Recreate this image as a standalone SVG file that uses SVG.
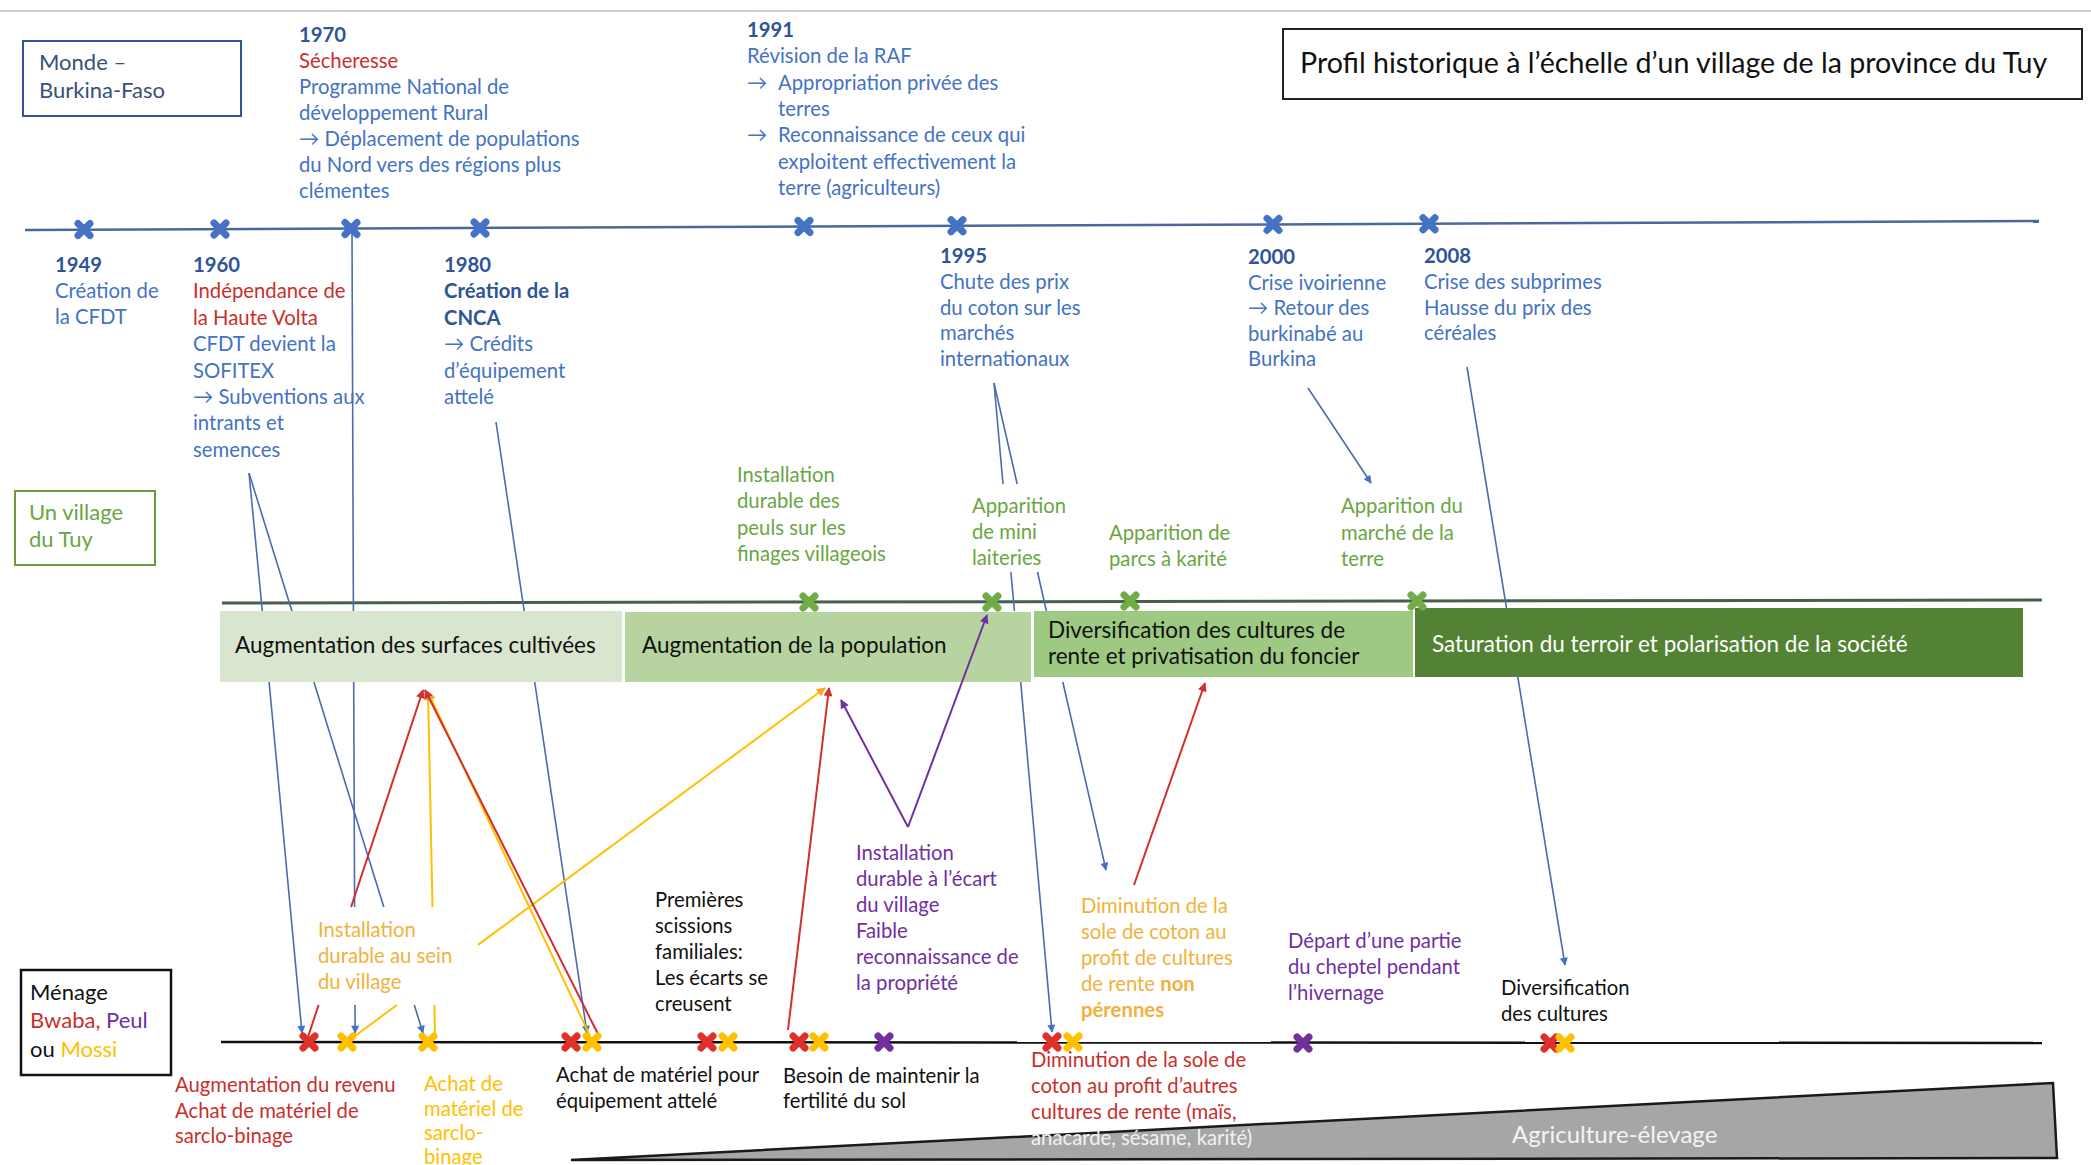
<svg xmlns="http://www.w3.org/2000/svg" xmlns:xlink="http://www.w3.org/1999/xlink" width="2091" height="1165" viewBox="0 0 2091 1165">
<style>
text{font-family:Lato,"Liberation Sans","DejaVu Sans",sans-serif;font-size:20.3px}
.blue{fill:#4472C4}
.yr{fill:#2F5597;font-weight:bold}
.red{fill:#C8302C}
.grn{fill:#6BA543}
.blk{fill:#111}
.pur{fill:#7030A0}
.org{fill:#F2B13C}
.yel{fill:#FFC000}
.box{font-size:22.5px;fill:#111}
.lab{font-size:22px}
.cb{fill:none;stroke:#4A6BB0;stroke-width:1.6}
.cr{fill:none;stroke:#D0302C;stroke-width:2}
.cy{fill:none;stroke:#FFC000;stroke-width:2}
.cp{fill:none;stroke:#7030A0;stroke-width:2}
</style>
<defs>
<path id="xm" d="M-6,-6 L6,6 M6,-6 L-6,6" fill="none" stroke-width="7" stroke-linecap="round"/>
<marker id="ab" viewBox="0 0 10 10" refX="9" refY="5" markerWidth="10" markerHeight="8" markerUnits="userSpaceOnUse" orient="auto"><path d="M0,0 L10,5 L0,10 z" fill="#4472C4"/></marker>
<marker id="ar" viewBox="0 0 10 10" refX="9" refY="5" markerWidth="11" markerHeight="9" markerUnits="userSpaceOnUse" orient="auto"><path d="M0,0 L10,5 L0,10 z" fill="#D0302C"/></marker>
<marker id="ay" viewBox="0 0 10 10" refX="9" refY="5" markerWidth="11" markerHeight="9" markerUnits="userSpaceOnUse" orient="auto"><path d="M0,0 L10,5 L0,10 z" fill="#F5A623"/></marker>
<marker id="ap" viewBox="0 0 10 10" refX="9" refY="5" markerWidth="11" markerHeight="9" markerUnits="userSpaceOnUse" orient="auto"><path d="M0,0 L10,5 L0,10 z" fill="#7030A0"/></marker>
</defs>
<rect width="2091" height="1165" fill="#fff"/>
<line x1="0" y1="11" x2="2091" y2="11" stroke="#d0d0d0" stroke-width="2"/>

<!-- scale boxes -->
<g id="monde">
<rect x="23" y="41" width="218" height="75" fill="#fff" stroke="#2F5597" stroke-width="2"/>
<text x="39" y="70" fill="#3A4F78" class="lab">Monde –</text>
<text x="39" y="98" fill="#3A4F78" class="lab">Burkina-Faso</text>
</g>
<g id="village">
<rect x="15" y="491" width="140" height="74" fill="#fff" stroke="#6B9A3F" stroke-width="2"/>
<text x="29" y="520" class="grn lab">Un village</text>
<text x="29" y="547" class="grn lab">du Tuy</text>
</g>
<g id="menage">
<rect x="21" y="970" width="150" height="105" fill="#fff" stroke="#111" stroke-width="2.5"/>
<text x="30" y="1000" class="blk lab">Ménage</text>
<text x="30" y="1028" class="lab"><tspan class="red">Bwaba, </tspan><tspan class="pur">Peul</tspan></text>
<text x="30" y="1057" class="lab"><tspan class="blk">ou </tspan><tspan class="yel">Mossi</tspan></text>
</g>
<g id="title">
<rect x="1283" y="29" width="799" height="70" fill="#fff" stroke="#222" stroke-width="2"/>
<text x="1300" y="73" class="blk" style="font-size:28.6px">Profil historique à l’échelle d’un village de la province du Tuy</text>
</g>

<!-- timelines -->
<g id="timelines">
<line x1="25" y1="230" x2="2039" y2="221" stroke="#4A67A0" stroke-width="2.5"/>
<line x1="222" y1="603" x2="2042" y2="600" stroke="#46604A" stroke-width="3"/>
<line x1="221" y1="1042" x2="2042" y2="1043" stroke="#111" stroke-width="2.5"/>
</g>

<!-- phase boxes -->
<g id="phase1"><rect x="220" y="611" width="402" height="71" fill="#D9E6CF"/><text x="235" y="653" class="box">Augmentation des surfaces cultivées</text></g>
<g id="phase2"><rect x="625" y="612" width="406" height="70" fill="#B7D3A0"/><text x="642" y="653" class="box">Augmentation de la population</text></g>
<g id="phase3"><rect x="1034" y="611" width="379" height="66" fill="#9DC983"/><text x="1048" y="638" class="box">Diversification des cultures de</text><text x="1048" y="664" class="box">rente et privatisation du foncier</text></g>
<g id="phase4"><rect x="1415" y="608" width="608" height="69" fill="#548235"/><text x="1432" y="652" class="box" style="fill:#fff">Saturation du terroir et polarisation de la société</text></g>

<!-- gray triangle -->
<g id="agri">
<polygon points="571,1160 2053,1083 2057,1158" fill="#A6A6A6" stroke="#1a1a1a" stroke-width="2.5"/>
<text x="1512" y="1143" style="font-size:24px;fill:#F4F4F4">Agriculture-élevage</text>
</g>

<!-- world events -->
<g id="e1949"><text x="55" y="272" class="blue"><tspan class="yr">1949</tspan><tspan x="55" dy="26">Création de</tspan><tspan x="55" dy="26">la CFDT</tspan></text></g>
<g id="e1960"><text x="193" y="272" class="blue"><tspan class="yr">1960</tspan><tspan x="193" dy="26.4" class="red">Indépendance de</tspan><tspan x="193" dy="26.4" class="red">la Haute Volta</tspan><tspan x="193" dy="26.4">CFDT devient la</tspan><tspan x="193" dy="26.4">SOFITEX</tspan><tspan x="193" dy="26.4">→ Subventions aux</tspan><tspan x="193" dy="26.4">intrants et</tspan><tspan x="193" dy="26.4">semences</tspan></text></g>
<g id="e1970"><text x="299" y="42" class="blue"><tspan class="yr">1970</tspan><tspan x="299" dy="26" class="red">Sécheresse</tspan><tspan x="299" dy="26">Programme National de</tspan><tspan x="299" dy="26">développement Rural</tspan><tspan x="299" dy="26">→ Déplacement de populations</tspan><tspan x="299" dy="26">du Nord vers des régions plus</tspan><tspan x="299" dy="26">clémentes</tspan></text></g>
<g id="e1980"><text x="444" y="272" class="blue"><tspan class="yr">1980</tspan><tspan x="444" dy="26.4" class="yr">Création de la</tspan><tspan x="444" dy="26.4" class="yr">CNCA</tspan><tspan x="444" dy="26.4">→ Crédits</tspan><tspan x="444" dy="26.4">d’équipement</tspan><tspan x="444" dy="26.4">attelé</tspan></text></g>
<g id="e1991"><text x="747" y="37" class="blue"><tspan class="yr">1991</tspan><tspan x="747" dy="26.3">Révision de la RAF</tspan><tspan x="747" dy="26.3">→</tspan><tspan x="778">Appropriation privée des</tspan><tspan x="778" dy="26.3">terres</tspan><tspan x="747" dy="26.3">→</tspan><tspan x="778">Reconnaissance de ceux qui</tspan><tspan x="778" dy="26.3">exploitent effectivement la</tspan><tspan x="778" dy="26.3">terre (agriculteurs)</tspan></text></g>
<g id="e1995"><text x="940" y="263" class="blue"><tspan class="yr">1995</tspan><tspan x="940" dy="25.8">Chute des prix</tspan><tspan x="940" dy="25.8">du coton sur les</tspan><tspan x="940" dy="25.8">marchés</tspan><tspan x="940" dy="25.8">internationaux</tspan></text></g>
<g id="e2000"><text x="1248" y="264" class="blue"><tspan class="yr">2000</tspan><tspan x="1248" dy="25.6">Crise ivoirienne</tspan><tspan x="1248" dy="25.6">→ Retour des</tspan><tspan x="1248" dy="25.6">burkinabé au</tspan><tspan x="1248" dy="25.6">Burkina</tspan></text></g>
<g id="e2008"><text x="1424" y="263" class="blue"><tspan class="yr">2008</tspan><tspan x="1424" dy="25.8">Crise des subprimes</tspan><tspan x="1424" dy="25.8">Hausse du prix des</tspan><tspan x="1424" dy="25.8">céréales</tspan></text></g>

<!-- village events -->
<g id="v1"><text x="737" y="482" class="grn"><tspan>Installation</tspan><tspan x="737" dy="26.3">durable des</tspan><tspan x="737" dy="26.3">peuls sur les</tspan><tspan x="737" dy="26.3">finages villageois</tspan></text></g>
<g id="v2"><text x="972" y="513" class="grn"><tspan>Apparition</tspan><tspan x="972" dy="26">de mini</tspan><tspan x="972" dy="26">laiteries</tspan></text></g>
<g id="v3"><text x="1109" y="540" class="grn"><tspan>Apparition de</tspan><tspan x="1109" dy="26">parcs à karité</tspan></text></g>
<g id="v4"><text x="1341" y="513" class="grn"><tspan>Apparition du</tspan><tspan x="1341" dy="26.5">marché de la</tspan><tspan x="1341" dy="26.5">terre</tspan></text></g>

<!-- household events -->
<g id="h1"><text x="318" y="937" class="org"><tspan>Installation</tspan><tspan x="318" dy="26">durable au sein</tspan><tspan x="318" dy="26">du village</tspan></text></g>
<g id="h2"><text x="655" y="907" class="blk"><tspan>Premières</tspan><tspan x="655" dy="26">scissions</tspan><tspan x="655" dy="26">familiales:</tspan><tspan x="655" dy="26">Les écarts se</tspan><tspan x="655" dy="26">creusent</tspan></text></g>
<g id="h3"><text x="856" y="860" class="pur"><tspan>Installation</tspan><tspan x="856" dy="26">durable à l’écart</tspan><tspan x="856" dy="26">du village</tspan><tspan x="856" dy="26">Faible</tspan><tspan x="856" dy="26">reconnaissance de</tspan><tspan x="856" dy="26">la propriété</tspan></text></g>
<g id="h4"><text x="1081" y="913" class="org"><tspan>Diminution de la</tspan><tspan x="1081" dy="26">sole de coton au</tspan><tspan x="1081" dy="26">profit de cultures</tspan><tspan x="1081" dy="26">de rente </tspan><tspan font-weight="bold">non</tspan><tspan x="1081" dy="26" font-weight="bold">pérennes</tspan></text></g>
<g id="h5"><text x="1288" y="948" class="pur"><tspan>Départ d’une partie</tspan><tspan x="1288" dy="26">du cheptel pendant</tspan><tspan x="1288" dy="26">l’hivernage</tspan></text></g>
<g id="h6"><text x="1501" y="995" class="blk"><tspan>Diversification</tspan><tspan x="1501" dy="26">des cultures</tspan></text></g>
<g id="h7"><text x="175" y="1092" class="red"><tspan>Augmentation du revenu</tspan><tspan x="175" dy="25.5">Achat de matériel de</tspan><tspan x="175" dy="25.5">sarclo-binage</tspan></text></g>
<g id="h8"><text x="424" y="1091" class="yel"><tspan>Achat de</tspan><tspan x="424" dy="24.5">matériel de</tspan><tspan x="424" dy="24.5">sarclo-</tspan><tspan x="424" dy="23.5">binage</tspan></text></g>
<g id="h9"><text x="556" y="1082" class="blk"><tspan>Achat de matériel pour</tspan><tspan x="556" dy="26">équipement attelé</tspan></text></g>
<g id="h10"><text x="783" y="1083" class="blk"><tspan>Besoin de maintenir la</tspan><tspan x="783" dy="25">fertilité du sol</tspan></text></g>
<g id="h11"><text x="1031" y="1067" class="red"><tspan>Diminution de la sole de</tspan><tspan x="1031" dy="26">coton au profit d’autres</tspan><tspan x="1031" dy="26">cultures de rente (maïs,</tspan><tspan x="1031" dy="26" style="fill:#F2F2F2">anacarde, sésame, karité)</tspan></text></g>

<!-- connectors -->
<g id="connectors">
<path class="cb" marker-end="url(#ab)" d="M249,473 L262.3,611 M269.1,682 L302,1033"/>
<path class="cb" marker-end="url(#ab)" d="M249,473 L291.9,611 M313.9,682 L383.8,907 M414.3,1005 L423,1033"/>
<path class="cb" marker-end="url(#ab)" d="M352,231 L353.4,611 M353.7,682 L354.6,907 M355,1005 L355.1,1033"/>
<path class="cb" marker-end="url(#ab)" d="M496,422 L524.2,611 M534.7,682 L587,1033"/>
<path class="cb" marker-end="url(#ab)" d="M994,383 L1003,484 M1010.9,572 L1014.4,611 M1020.7,682 L1052,1032"/>
<path class="cb" marker-end="url(#ab)" d="M994,383 L1017.2,484 M1037.5,572 L1046.4,611 M1062.8,682 L1106,870"/>
<path class="cb" marker-end="url(#ab)" d="M1308,388 L1371,483"/>
<path class="cb" marker-end="url(#ab)" d="M1467,367 L1506.5,608 M1517.8,677 L1565,965"/>
<path class="cr" marker-end="url(#ar)" d="M308,1037 L318.6,1005 M351.1,907 L423,690"/>
<path class="cy" marker-end="url(#ay)" d="M435,1036 L434.4,1005 M432.5,907 L428,692"/>
<path class="cy" marker-end="url(#ay)" d="M355,1036 L396.9,1005 M478,944.9 L825,688"/>
<path class="cy" marker-end="url(#ay)" d="M590,1036 L428,692"/>
<path class="cr" marker-end="url(#ar)" d="M599,1036 L425,690"/>
<path class="cr" marker-end="url(#ar)" d="M788,1030 L829,688"/>
<path class="cp" marker-end="url(#ap)" d="M908,827 L841,700"/>
<path class="cp" marker-end="url(#ap)" d="M908,827 L987,615"/>
<path class="cr" marker-end="url(#ar)" d="M1134,885 L1205,683"/>
</g>

<!-- markers -->
<g id="marks-world" stroke="#4472C4">
<use xlink:href="#xm" x="84" y="229.5"/><use xlink:href="#xm" x="220" y="229"/><use xlink:href="#xm" x="351" y="228.5"/><use xlink:href="#xm" x="480" y="228"/><use xlink:href="#xm" x="804" y="226.5"/><use xlink:href="#xm" x="957" y="225.8"/><use xlink:href="#xm" x="1273" y="224.4"/><use xlink:href="#xm" x="1429" y="223.7"/>
</g>
<g id="marks-village" stroke="#70AD47">
<use xlink:href="#xm" x="809" y="602"/><use xlink:href="#xm" x="992" y="602"/><use xlink:href="#xm" x="1130" y="601"/><use xlink:href="#xm" x="1417" y="601"/>
</g>
<g id="marks-household">
<use xlink:href="#xm" x="309" y="1042" stroke="#E0302A"/><use xlink:href="#xm" x="347" y="1042" stroke="#FFC000"/><use xlink:href="#xm" x="428" y="1042" stroke="#FFC000"/>
<use xlink:href="#xm" x="571" y="1042" stroke="#E0302A"/><use xlink:href="#xm" x="592" y="1042" stroke="#FFC000"/>
<use xlink:href="#xm" x="707" y="1042" stroke="#E0302A"/><use xlink:href="#xm" x="728" y="1042" stroke="#FFC000"/>
<use xlink:href="#xm" x="799" y="1042" stroke="#E0302A"/><use xlink:href="#xm" x="819" y="1042" stroke="#FFC000"/>
<use xlink:href="#xm" x="884" y="1042" stroke="#7030A0"/>
<use xlink:href="#xm" x="1052" y="1042" stroke="#E0302A"/><use xlink:href="#xm" x="1073" y="1042" stroke="#FFC000"/>
<use xlink:href="#xm" x="1303" y="1043" stroke="#7030A0"/>
<use xlink:href="#xm" x="1550" y="1043" stroke="#E0302A"/><use xlink:href="#xm" x="1565" y="1043" stroke="#FFC000"/>
</g>
</svg>
